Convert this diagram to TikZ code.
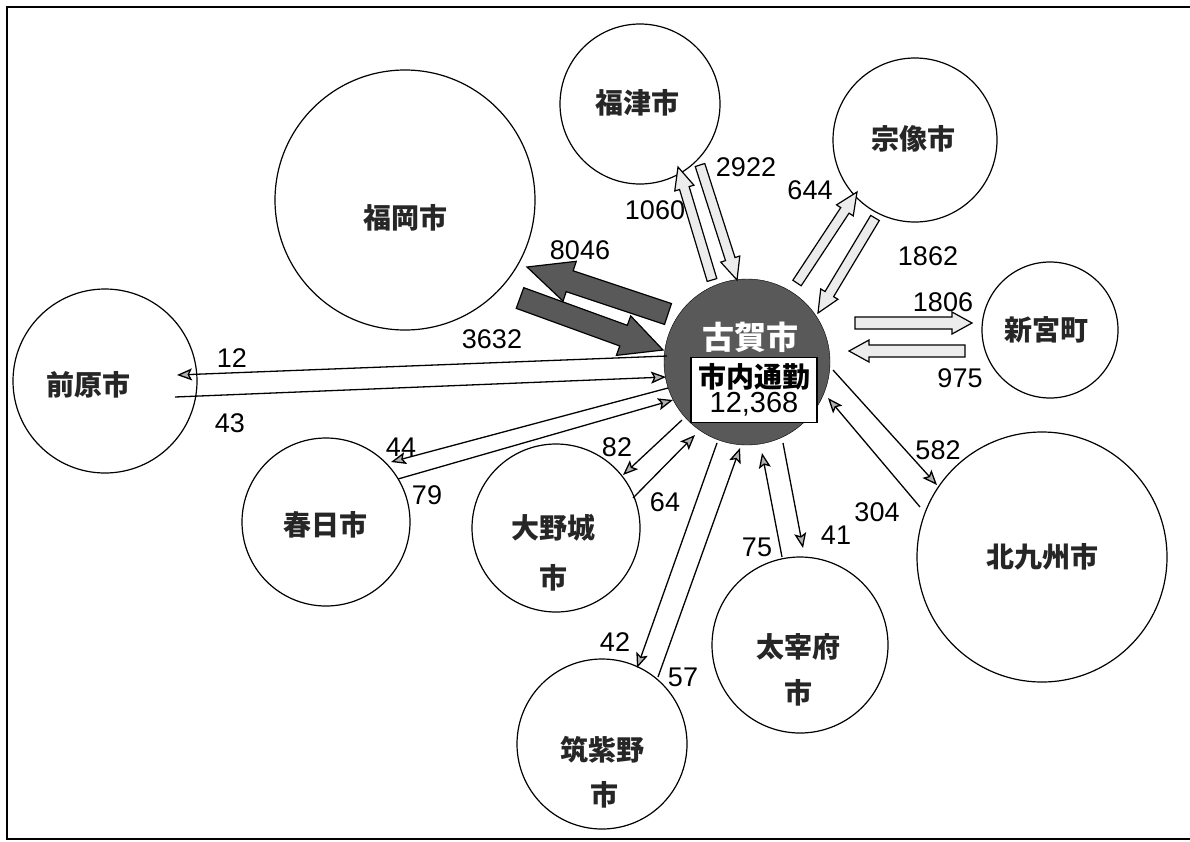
\documentclass[tikz,border=0pt]{standalone}
\usepackage{fontspec}
\setmainfont{Liberation Sans}
\newfontfamily\jp{Noto Sans CJK JP}
\usetikzlibrary{arrows.meta,calc}
\newcommand\blockarr[6][]{%
  \coordinate (ba-n) at ($(#3)!#6!(#2)$);
  \draw[#1] ($(#2)!#4!90:(#3)$) -- ($(ba-n)!#4!90:(#3)$) -- ($(ba-n)!#5!90:(#3)$) -- (#3)
    -- ($(ba-n)!#5!-90:(#3)$) -- ($(ba-n)!#4!-90:(#3)$) -- ($(#2)!#4!-90:(#3)$) -- cycle;}
\begin{document}
\begin{tikzpicture}[x=1pt,y=-1pt,
  city/.style={circle,draw,line width=1.2pt,inner sep=0pt},
  lbl/.style={font=\jp\bfseries\fontsize{28}{30}\selectfont,inner sep=0pt,text=black!85},
  num/.style={font=\fontsize{27}{27}\selectfont,inner sep=0pt},
  flow/.style={line width=1.3pt,-{Stealth[length=15pt,width=12pt,inset=3pt,fill=gray!60]}},
  light/.style={draw,line width=1.2pt,fill=gray!15},
  dark/.style={draw,line width=1.2pt,fill=black!65}]
\useasboundingbox (0,0) rectangle (1190,841);
% frame
\draw[line width=2pt] (1200,7) -- (7,7) -- (7,839) -- (1200,839);

% central city
\node[circle,draw,fill=black!65,minimum size=166pt,inner sep=0pt] (koga) at (747,362) {};
\node[font=\jp\bfseries\fontsize{32}{32}\selectfont,text=white,inner sep=0pt] (kogalbl) at (750,337) {古賀市};
\node[draw,fill=white,line width=1.2pt,minimum width=126pt,minimum height=65pt,inner sep=0pt,align=center] (box) at (754,390)
  {{\jp\bfseries\fontsize{28}{28}\selectfont 市内通勤}\\[1pt]{\fontsize{29}{29}\selectfont 12,368}};

% other cities
\node[city,minimum size=160pt] (fukutsu) at (640,104) {};
\node[lbl] (fukutsul) at (637,103) {福津市};
\node[city,minimum size=164pt] (munakata) at (915,140) {};
\node[lbl] (munakatal) at (913,139) {宗像市};
\node[city,minimum size=260pt] (fukuoka) at (405,200) {};
\node[lbl] (fukuokal) at (405,218) {福岡市};
\node[city,minimum size=184pt] (maebara) at (105,381) {};
\node[lbl] (maebaral) at (88,385) {前原市};
\node[city,minimum size=168pt] (kasuga) at (326,522) {};
\node[lbl] (kasugal) at (325,525) {春日市};
\node[city,minimum size=168pt] (onojo) at (556,528) {};
\node[lbl] (onojol1) at (553,528) {大野城};
\node[lbl] (onojol2) at (553,578) {市};
\node[city,minimum size=176pt] (dazaifu) at (800,645) {};
\node[lbl] (dazaiful1) at (798,647) {太宰府};
\node[lbl] (dazaiful2) at (798,693) {市};
\node[city,minimum size=170pt] (chikushino) at (602,744) {};
\node[lbl] (chikushinol1) at (602,750) {筑紫野};
\node[lbl] (chikushinol2) at (604,795) {市};
\node[city,minimum size=250pt] (kita) at (1042,557) {};
\node[lbl] (kital) at (1042,557) {北九州市};
\node[city,minimum size=136pt] (shingu) at (1050,330) {};
\node[lbl] (shingul) at (1046,330) {新宮町};

% block arrow end points
\coordinate (fa1t) at (712,280); \coordinate (fa1h) at (678,167);
\coordinate (fa2t) at (700,165); \coordinate (fa2h) at (737,280);
\coordinate (ma1t) at (797,283); \coordinate (ma1h) at (857,192);
\coordinate (ma2t) at (875,218); \coordinate (ma2h) at (818,313);
\coordinate (sa1t) at (855,323); \coordinate (sa1h) at (972,323);
\coordinate (sa2t) at (965,351); \coordinate (sa2h) at (849,351);
\coordinate (ka1t) at (668,314); \coordinate (ka1h) at (527,267);
\coordinate (ka2t) at (520,298); \coordinate (ka2h) at (663,350);

\blockarr[light]{fa1t}{fa1h}{5pt}{10pt}{22pt}
\blockarr[light]{fa2t}{fa2h}{5pt}{10pt}{22pt}
\blockarr[light]{ma1t}{ma1h}{5pt}{10pt}{22pt}
\blockarr[light]{ma2t}{ma2h}{5pt}{10pt}{22pt}
\blockarr[light]{sa1t}{sa1h}{6pt}{11pt}{20pt}
\blockarr[light]{sa2t}{sa2h}{6pt}{11pt}{20pt}
\blockarr[dark]{ka1t}{ka1h}{11pt}{21pt}{45pt}
\blockarr[dark]{ka2t}{ka2h}{11pt}{21pt}{42pt}

% thin flow end points
\coordinate (l12a) at (667,356); \coordinate (l12b) at (177,375);
\coordinate (l43a) at (175,397); \coordinate (l43b) at (666,377);
\coordinate (l44a) at (668,388); \coordinate (l44b) at (391,462);
\coordinate (l79a) at (398,479); \coordinate (l79b) at (673,400);
\coordinate (l82a) at (682,420); \coordinate (l82b) at (623,475);
\coordinate (l64a) at (633,498); \coordinate (l64b) at (695,435);
\coordinate (l42a) at (717,443); \coordinate (l42b) at (637,668);
\coordinate (l57a) at (658,677); \coordinate (l57b) at (740,448);
\coordinate (l75a) at (782,557); \coordinate (l75b) at (762,453);
\coordinate (l41a) at (783,443); \coordinate (l41b) at (803,548);
\coordinate (l304a) at (920,507); \coordinate (l304b) at (828,398);
\coordinate (l582a) at (833,370); \coordinate (l582b) at (937,485);

\draw[flow] (l12a) -- (l12b);
\draw[flow] (l43a) -- (l43b);
\draw[flow] (l44a) -- (l44b);
\draw[flow] (l79a) -- (l79b);
\draw[flow] (l82a) -- (l82b);
\draw[flow] (l64a) -- (l64b);
\draw[flow] (l42a) -- (l42b);
\draw[flow] (l57a) -- (l57b);
\draw[flow] (l75a) -- (l75b);
\draw[flow] (l41a) -- (l41b);
\draw[flow] (l304a) -- (l304b);
\draw[flow] (l582a) -- (l582b);

% numbers
\node[num] (n2922) at (746,167) {2922};
\node[num] (n1060) at (655,210) {1060};
\node[num] (n644) at (810,190) {644};
\node[num] (n1862) at (928,256) {1862};
\node[num] (n1806) at (943,302) {1806};
\node[num] (n975) at (960,378) {975};
\node[num] (n8046) at (580,250) {8046};
\node[num] (n3632) at (492,339) {3632};
\node[num] (n12) at (232,358) {12};
\node[num] (n43) at (230,423) {43};
\node[num] (n44) at (401,447) {44};
\node[num] (n79) at (427,495) {79};
\node[num] (n82) at (617,447) {82};
\node[num] (n64) at (665,502) {64};
\node[num] (n582) at (938,450) {582};
\node[num] (n304) at (877,512) {304};
\node[num] (n75) at (757,547) {75};
\node[num] (n41) at (836,535) {41};
\node[num] (n42) at (615,642) {42};
\node[num] (n57) at (683,677) {57};
\end{tikzpicture}
\end{document}
